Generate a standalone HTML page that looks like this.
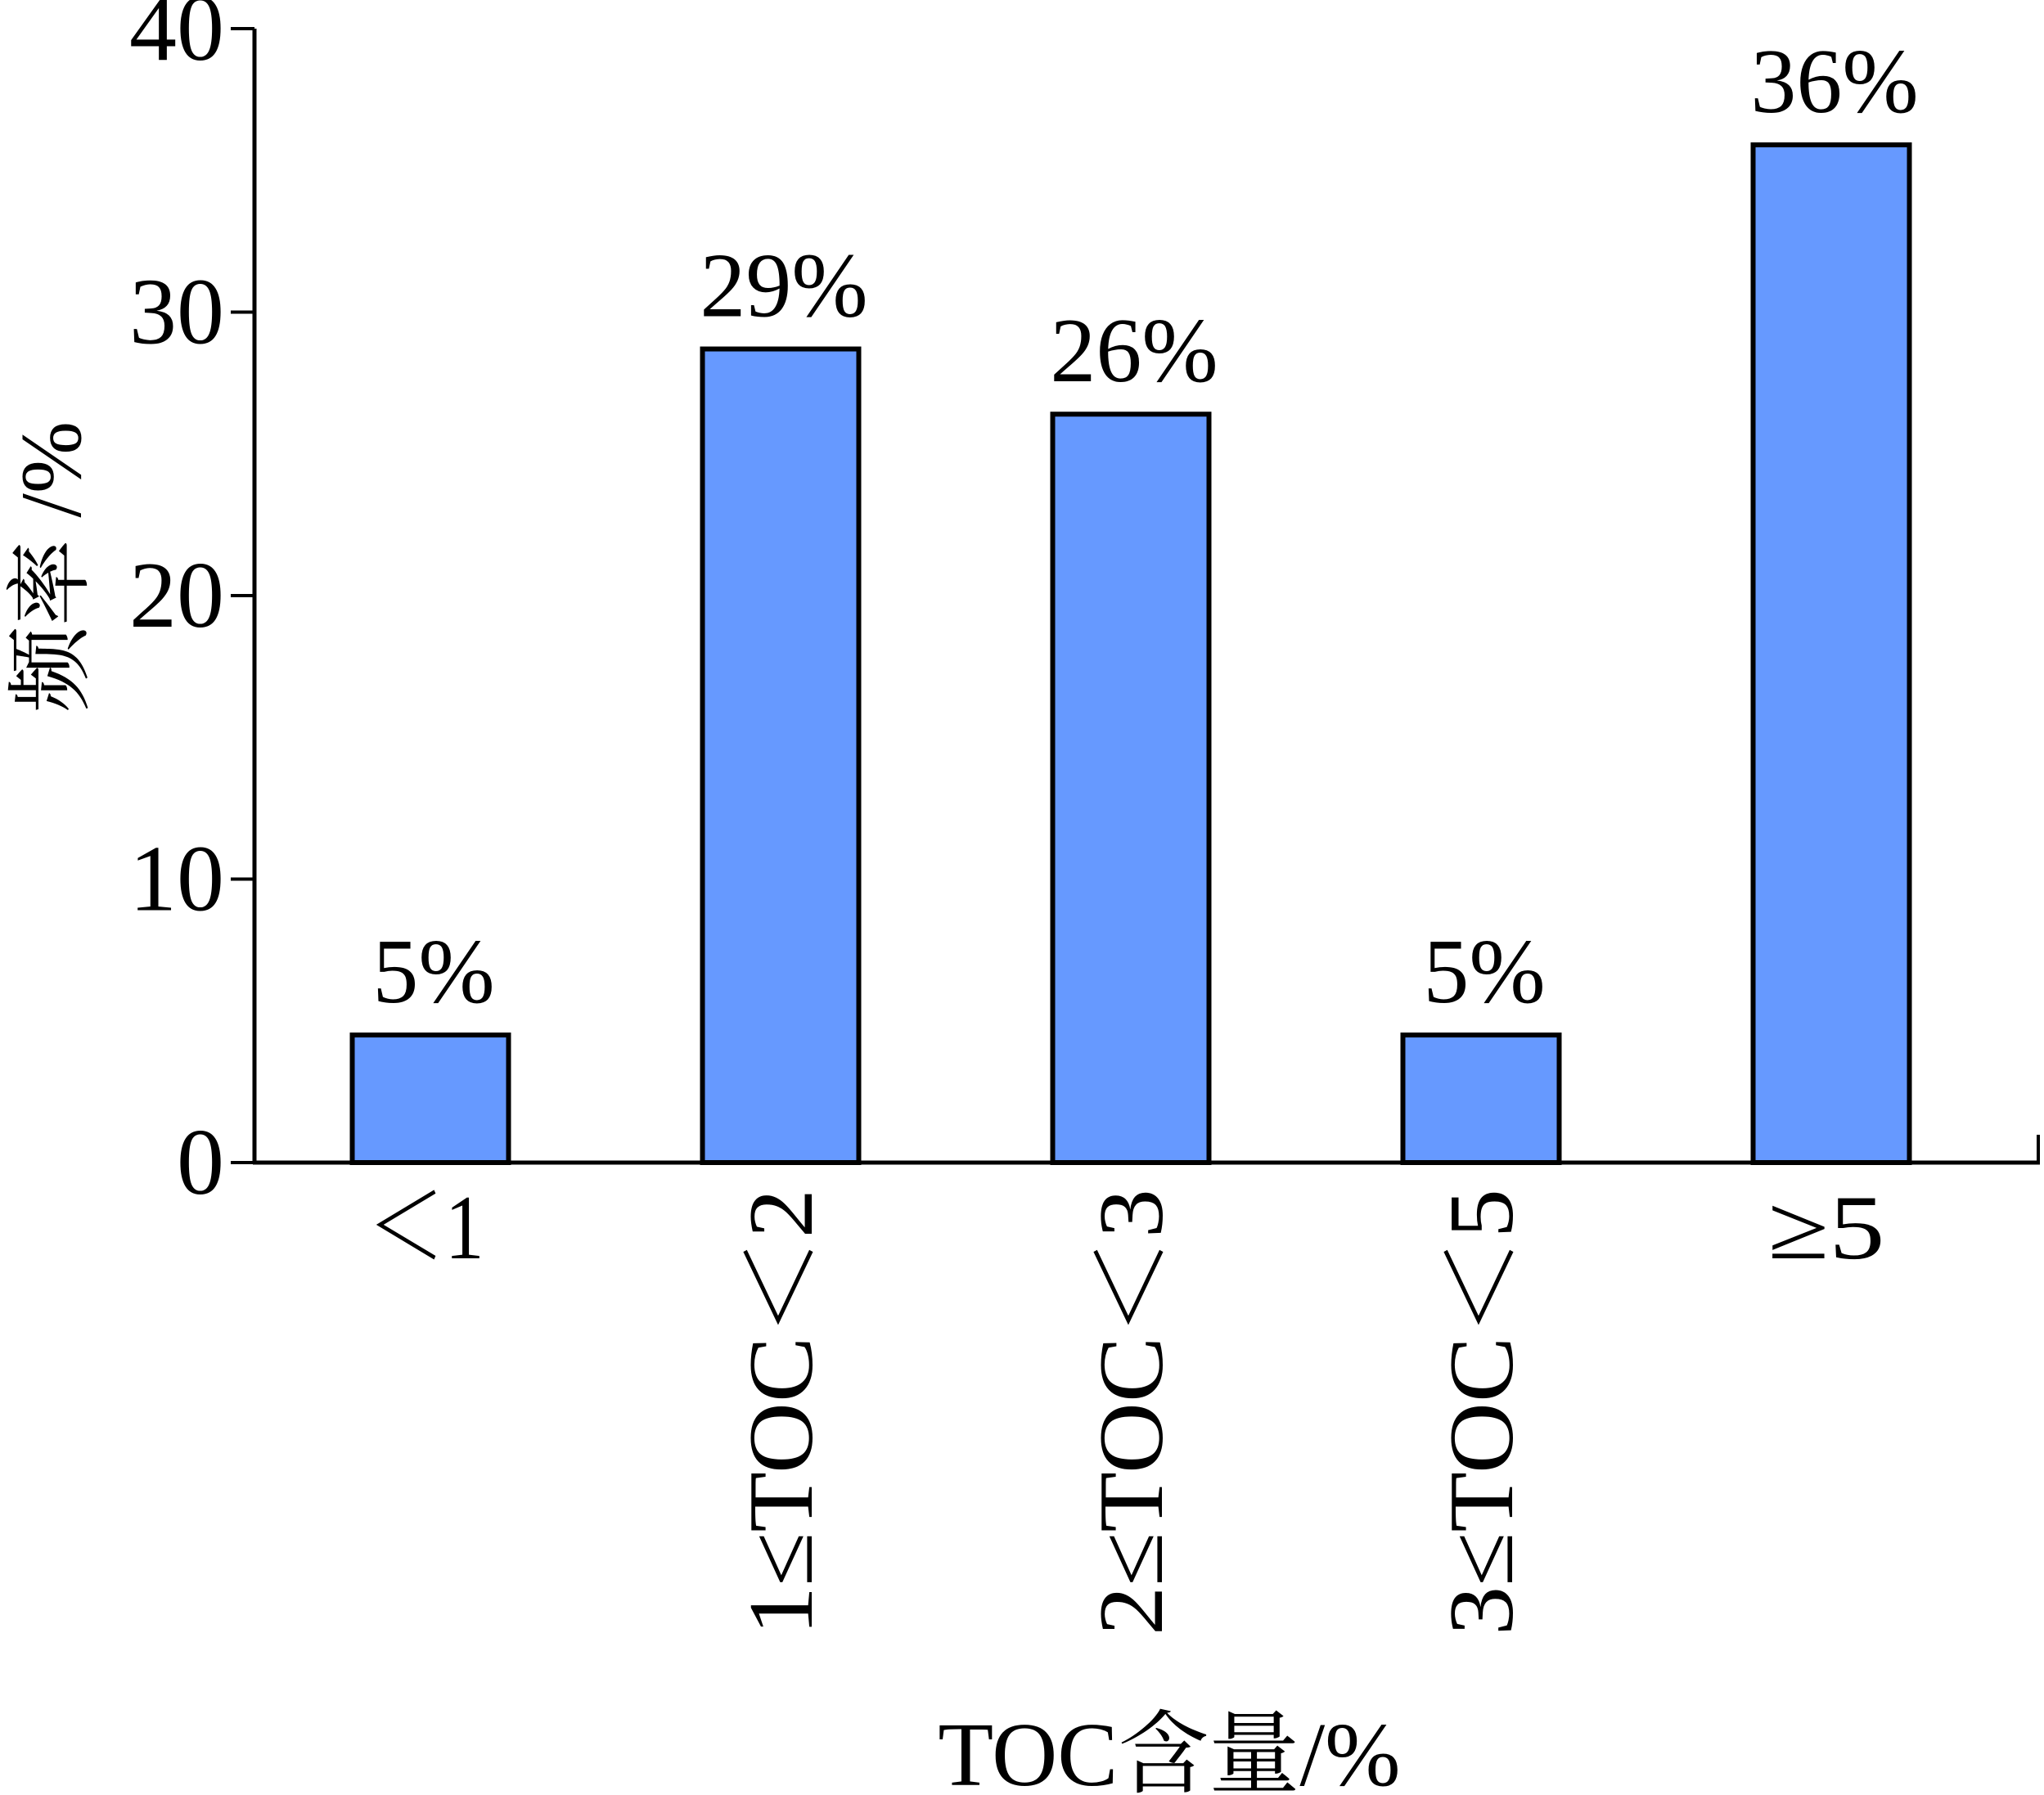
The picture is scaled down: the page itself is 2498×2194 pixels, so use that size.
<!DOCTYPE html>
<html><head><meta charset="utf-8"><style>
html,body{margin:0;padding:0;background:#fff;}
svg{display:block;}
text{font-family:"Liberation Serif","Noto Serif CJK SC",serif;fill:#000;}
</style></head><body>
<svg id="chart" width="2498" height="2194" viewBox="0 0 2498 2194" xmlns="http://www.w3.org/2000/svg"></svg>
<script>
const categories = ["＜1","1≤TOC＜2","2≤TOC＜3","3≤TOC＜5","≥5"];
const values = [4.5, 28.7, 26.4, 4.5, 35.9];
const valueLabels = ["5%","29%","26%","5%","36%"];
const yTicks = [0,10,20,30,40];

const NS = "http://www.w3.org/2000/svg";
const svg = document.getElementById("chart");
const x0 = 311, yZero = 1421, yTop = 35, xEnd = 2493;
const yMax = 40;
const y = v => yZero - (v / yMax) * (yZero - yTop);
const firstCenter = 526, lastCenter = 2238;
const x = i => firstCenter + i * ((lastCenter - firstCenter) / (categories.length - 1));
const barW = 191;

function el(tag, attrs){ const e=document.createElementNS(NS,tag); for(const k in attrs) e.setAttribute(k,attrs[k]); svg.appendChild(e); return e; }

values.forEach((v,i)=>{
  const r = el("rect",{x:x(i)-barW/2,y:y(v),width:barW,height:yZero-y(v),fill:"#6699ff",stroke:"#000","stroke-width":6});
  
  
  const t = el("text",{x:x(i)+4,y:y(v)-40,"font-size":112,"text-anchor":"middle"});
  t.textContent = valueLabels[i];
  
  
});

const ya = el("line",{x1:x0,y1:yTop,x2:x0,y2:yZero+2,stroke:"#000","stroke-width":5});


const xa = el("line",{x1:x0-2,y1:yZero,x2:xEnd,y2:yZero,stroke:"#000","stroke-width":5});


const rt = el("line",{x1:xEnd-2,y1:yZero,x2:xEnd-2,y2:yZero-34,stroke:"#000","stroke-width":4});



yTicks.forEach(v=>{
  const tk = el("line",{x1:x0-29,y1:y(v),x2:x0,y2:y(v),stroke:"#000","stroke-width":4});
  
  
  const t = el("text",{x:274,y:y(v)+38,"font-size":116,"text-anchor":"end"});
  t.textContent = v;
  
  
});

categories.forEach((c,i)=>{
  let t;
  if (i===0 || i===4) {
    t = el("text",{x:x(i)-6,y:1538,"font-size":112,"text-anchor":"middle",textLength:143,lengthAdjust:"spacingAndGlyphs"});
  } else {
    const bx = x(i)+38, by = 1453;
    t = el("text",{x:bx,y:by,"font-size":112,"text-anchor":"end",transform:`rotate(-90 ${bx} ${by})`,textLength:546,lengthAdjust:"spacingAndGlyphs"});
  }
  t.textContent = c;
  
  
});

const xt = el("text",{x:1429,y:2182,"font-size":111,"text-anchor":"middle"});
xt.textContent = "TOC含量/%";



const yt = el("text",{x:98,y:693,"font-size":106,"text-anchor":"middle",transform:"rotate(-90 98 693)"});
yt.textContent = "频率 /%";


</script>
</body></html>
